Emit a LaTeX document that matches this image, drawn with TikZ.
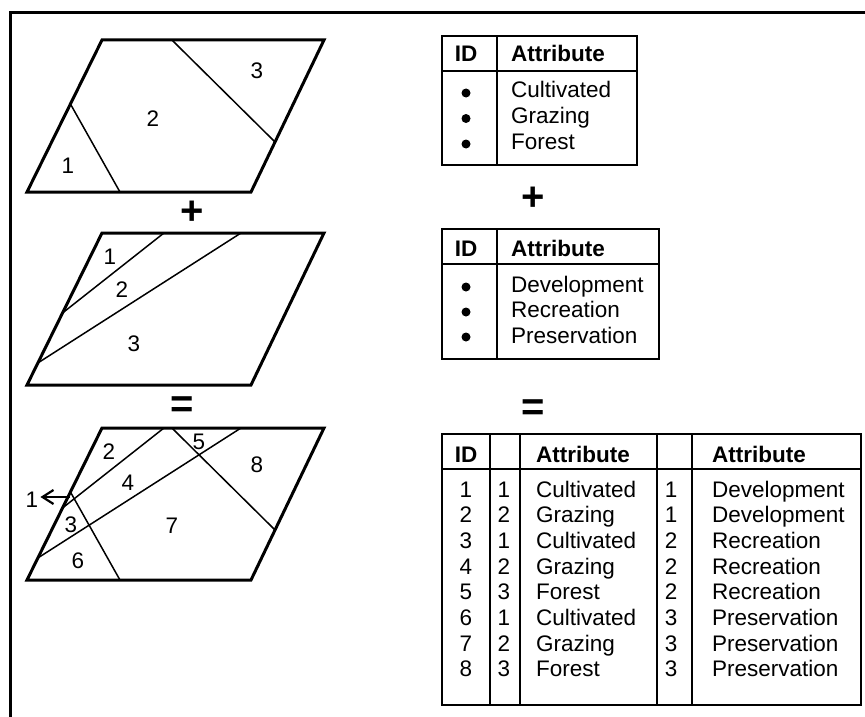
\documentclass[tikz,border=0pt]{standalone}
\usepackage{fontspec}
\setmainfont{Liberation Sans}
\usetikzlibrary{calc,arrows.meta}

\tikzset{
  txt/.style={font=\fontsize{22.5}{27}\selectfont, inner sep=0pt},
  hdr/.style={font=\fontsize{22.5}{27}\selectfont\bfseries, inner sep=0pt},
  opsign/.style={font=\fontsize{40}{40}\selectfont\bfseries, inner sep=0pt},
  mapline/.style={line width=3pt, line join=miter},
  cutline/.style={line width=1.5pt},
  tabline/.style={line width=2.3pt},
  bullet/.style={circle, fill, inner sep=0pt, minimum size=9pt},
}

\begin{document}
\begin{tikzpicture}[x=1pt, y=-1pt]
    \useasboundingbox (0,0) rectangle (865,717);
    % frame
    \draw[line width=3pt] (10,717) -- (10,13) -- (865,13);

    % three maps
    \foreach \m/\t in {1/40, 2/233, 3/428} {
        \coordinate (tl\m) at (102,\t);
        \coordinate (tr\m) at (324,\t);
        \coordinate (br\m) at (251,\t+152);
        \coordinate (bl\m) at (27,\t+152);
        \draw[mapline] (tl\m) -- (tr\m) -- (br\m) -- (bl\m) -- cycle;
    }
    % land use lines
    \foreach \m in {1,3} {
        \draw[cutline] ($(tl\m)!0.315!(tr\m)$) -- ($(tr\m)!0.671!(br\m)$);
        \draw[cutline] ($(tl\m)!0.421!(bl\m)$) -- ($(bl\m)!0.415!(br\m)$);
    }
    % zoning lines
    \foreach \m in {2,3} {
        \draw[cutline] ($(tl\m)!0.279!(tr\m)$) -- ($(tl\m)!0.526!(bl\m)$);
        \draw[cutline] ($(tl\m)!0.626!(tr\m)$) -- ($(tl\m)!0.855!(bl\m)$);
    }

    % map labels
    \node[txt, anchor=base] (ma3) at (257,78) {3};
    \node[txt, anchor=base] (ma2) at (153,126) {2};
    \node[txt, anchor=base] (ma1) at (68,173) {1};
    \node[txt, anchor=base] (mb1) at (110,264) {1};
    \node[txt, anchor=base] (mb2) at (122,297) {2};
    \node[txt, anchor=base] (mb3) at (134,351) {3};
    \node[txt, anchor=base] (mc2) at (109,459) {2};
    \node[txt, anchor=base] (mc5) at (199,449) {5};
    \node[txt, anchor=base] (mc8) at (257,472) {8};
    \node[txt, anchor=base] (mc4) at (128,490) {4};
    \node[txt, anchor=base] (mc1) at (32,507) {1};
    \node[txt, anchor=base] (mc3) at (71,532) {3};
    \node[txt, anchor=base] (mc7) at (172,533) {7};
    \node[txt, anchor=base] (mc6) at (78,568) {6};
    \coordinate (sliver) at (70,497);
    \draw[line width=2.2pt, -{Straight Barb[length=11pt,width=14pt]}] (sliver) -- ([xshift=2pt]mc1.east |- sliver);

    % plus and equals
    \node[opsign] (plusL) at (192,213) {+};
    \node[opsign] (plusR) at (533,199) {+};
    \node[opsign] (eqL) at (182,407) {=};
    \node[opsign] (eqR) at (533,410) {=};

    % table 1
    \draw[tabline] (442,36) rectangle (637,165);
    \draw[tabline] (442,71) -- (637,71);
    \draw[tabline] (497,36) -- (497,165);
    \node[hdr, anchor=base] (t1id) at (466,62) {ID};
    \node[hdr, anchor=base west] (t1at) at (511,62) {Attribute};
    \foreach \i/\a in {1/Cultivated, 2/Grazing, 3/Forest} {
        \node[bullet] (t1d\i) at (466,67.5+25.5*\i) {};
        \node[txt, anchor=base west] (t1r\i) at (511,71+26*\i) {\a};
    }

    % table 2
    \draw[tabline] (442,229) rectangle (659,359);
    \draw[tabline] (442,264) -- (659,264);
    \draw[tabline] (497,229) -- (497,359);
    \node[hdr, anchor=base] (t2id) at (466,256) {ID};
    \node[hdr, anchor=base west] (t2at) at (511,256) {Attribute};
    \foreach \i/\a in {1/Development, 2/Recreation, 3/Preservation} {
        \node[bullet] (t2d\i) at (466,262+25*\i) {};
        \node[txt, anchor=base west] (t2r\i) at (511,266.5+25.5*\i) {\a};
    }

    % table 3
    \draw[tabline] (442,434) rectangle (861,705);
    \draw[tabline] (442,469) -- (861,469);
    \foreach \x in {490,520,657,692}
        \draw[tabline] (\x,434) -- (\x,705);
    \node[hdr, anchor=base] (t3id) at (466,462) {ID};
    \node[hdr, anchor=base west] (t3at) at (536,462) {Attribute};
    \node[hdr, anchor=base west] (t3bt) at (712,462) {Attribute};
    \foreach \i/\a/\u/\z/\w in {1/1/Cultivated/1/Development, 2/2/Grazing/1/Development,
        3/1/Cultivated/2/Recreation, 4/2/Grazing/2/Recreation, 5/3/Forest/2/Recreation,
        6/1/Cultivated/3/Preservation, 7/2/Grazing/3/Preservation, 8/3/Forest/3/Preservation} {
        \node[txt, anchor=base] (t3i\i) at (466,471.3+25.7*\i) {\i};
        \node[txt, anchor=base] (t3a\i) at (504,471.3+25.7*\i) {\a};
        \node[txt, anchor=base west] (t3u\i) at (536,471.3+25.7*\i) {\u};
        \node[txt, anchor=base] (t3z\i) at (671,471.3+25.7*\i) {\z};
        \node[txt, anchor=base west] (t3w\i) at (712,471.3+25.7*\i) {\w};
    }
\end{tikzpicture}
\end{document}
